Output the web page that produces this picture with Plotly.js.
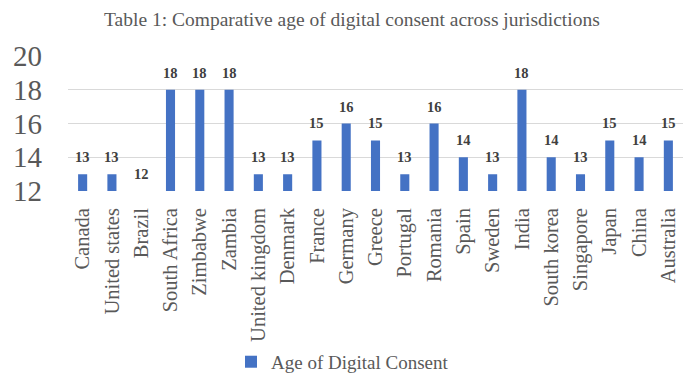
<!DOCTYPE html>
<html><head><meta charset="utf-8">
<script src="https://cdn.plot.ly/plotly-3.0.1.min.js"></script>
<style>html,body{margin:0;padding:0;background:#fff}#c{width:690px;height:375px}</style>
</head><body><div id="c"></div>
<script>
const countries = ["Canada","United states","Brazil","South Africa","Zimbabwe","Zambia","United kingdom","Denmark","France","Germany","Greece","Portugal","Romania","Spain","Sweden","India","South korea","Singapore","Japan","China","Australia"];
const ages = [13,13,12,18,18,18,13,13,15,16,15,13,16,14,13,18,14,13,15,14,15];
const seriesName = "Age of Digital Consent";
const yTicks = [12,14,16,18,20];

const serif = "Liberation Serif, DejaVu Serif, serif";
const valueLabels = ages.map((v, i) => ({
  x: countries[i], y: v, xref: "x", yref: "y",
  text: String(v), showarrow: false, yanchor: "bottom", yshift: 7,
  font: {family: serif, size: 14.5, color: "#404040", weight: "bold"}
}));

Plotly.newPlot("c", [{
  type: "bar",
  x: countries,
  y: ages,
  name: seriesName,
  marker: {color: "#4472C4"},
  showlegend: true
}], {
  width: 690, height: 375,
  margin: {l: 68, r: 7, t: 55.5, b: 183.5, autoexpand: false},
  paper_bgcolor: "#fff", plot_bgcolor: "#fff",
  title: {text: "Table 1: Comparative age of digital consent across jurisdictions", x: 0.51, xanchor: "center", y: 0.95, yanchor: "middle", font: {family: serif, size: 19.5, color: "#595959"}},
  bargap: 0.69,
  annotations: valueLabels,
  xaxis: {tickangle: -90, tickfont: {family: serif, size: 20.5, color: "#595959"}, showgrid: false, showline: false, ticks: "", ticklabelstandoff: 12, automargin: false},
  yaxis: {range: [12, 20], tickvals: yTicks, ticktext: yTicks.map(String), tickfont: {family: serif, size: 29, color: "#595959"}, gridcolor: "#d9d9d9", gridwidth: 1, zeroline: false, showline: false, ticklabelstandoff: 25, automargin: false},
  legend: {orientation: "h", x: 0.265, xanchor: "left", yref: "container", y: 0.035, yanchor: "middle", font: {family: serif, size: 19, color: "#595959"}, itemwidth: 30},
  showlegend: true
}, {displayModeBar: false, staticPlot: true});
</script></body></html>
